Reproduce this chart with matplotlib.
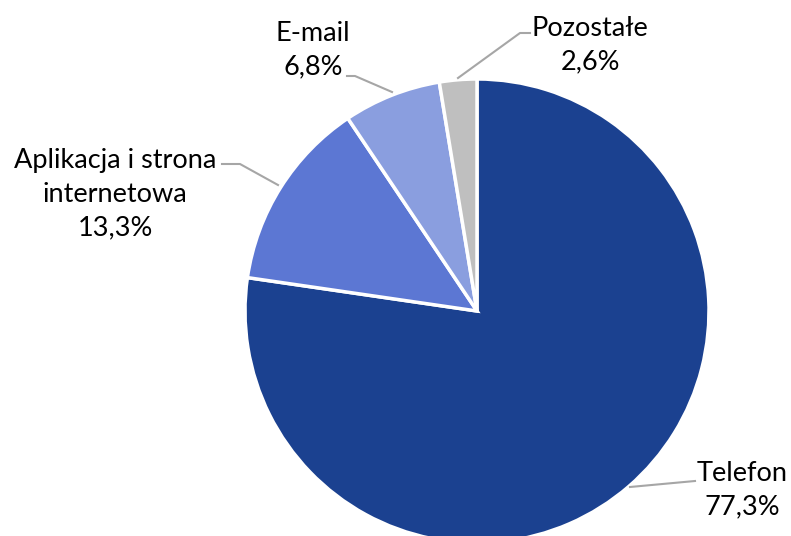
import matplotlib
matplotlib.use("Agg")
import matplotlib.pyplot as plt

categories = ["Telefon", "Aplikacja i strona\ninternetowa", "E-mail", "Pozostałe"]
values = [77.3, 13.3, 6.8, 2.6]
value_labels = ["77,3%", "13,3%", "6,8%", "2,6%"]
colors = ["#1B4190", "#5C77D3", "#8A9EDF", "#BFBFBF"]

W, H = 791, 536
fig = plt.figure(figsize=(W / 100, H / 100), dpi=100)
ax = fig.add_axes([0, 0, 1, 1])

cx, cy, R = 477, 311, 232  # pixel geometry of the pie

def px(x, y):
    return ((x - cx) / R, (cy - y) / R)

ax.pie(values, colors=colors, startangle=90, counterclock=False, radius=1,
       wedgeprops=dict(edgecolor="white", linewidth=2.5))
ax.set_xlim(-cx / R, (W - cx) / R)
ax.set_ylim(-(H - cy) / R, cy / R)
ax.set_aspect("auto")
ax.axis("off")

font = dict(family=["Lato", "DejaVu Sans"], fontsize=19.5, color="black",
            ha="center", va="center", linespacing=1.42)

label_pos = [(742, 490), (115, 194), (313, 50), (590, 45)]
for cat, vl, (x, y) in zip(categories, value_labels, label_pos):
    ax.text(*px(x, y), f"{cat}\n{vl}", **font)

leaders = [
    [(630, 487), (695, 481)],
    [(278, 185), (240, 164), (222, 164)],
    [(392, 92), (355, 76), (347, 76)],
    [(458, 78), (520, 33), (530, 33)],
]
for pts in leaders:
    xs, ys = zip(*[px(a, b) for a, b in pts])
    ax.plot(xs, ys, color="#A6A6A6", linewidth=1.5)

fig.savefig("out.png", dpi=100)
